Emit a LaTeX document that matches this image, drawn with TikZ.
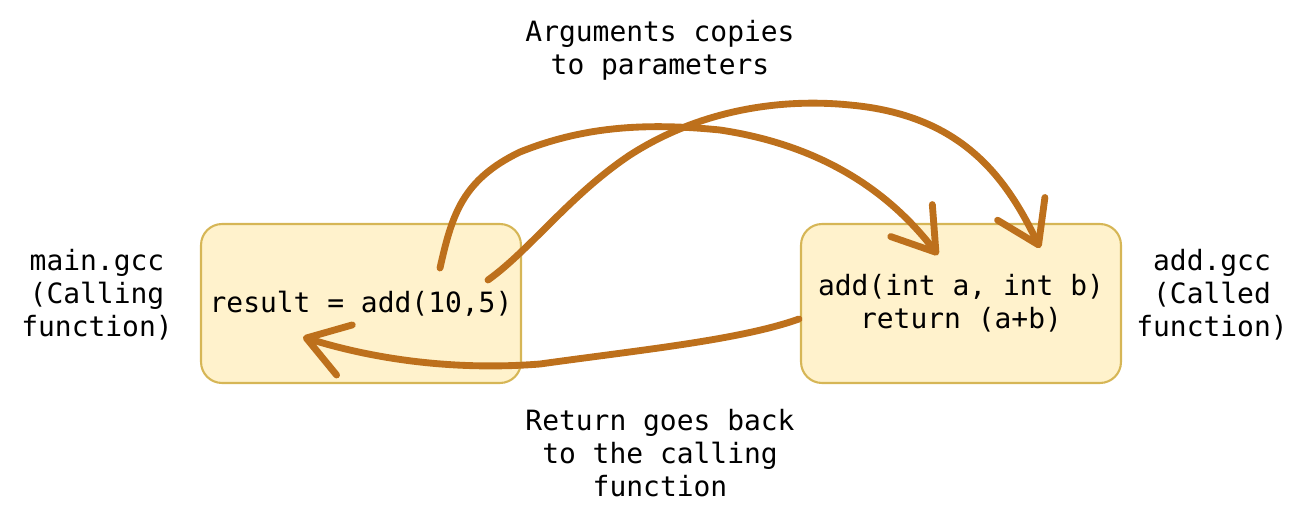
\documentclass[tikz,border=0pt]{standalone}
\usepackage{fontspec}
\setmonofont{DejaVu Sans Mono}
\usetikzlibrary{arrows.meta,calc}
\definecolor{boxfill}{HTML}{FFF2CC}
\definecolor{boxline}{HTML}{D6B656}
\definecolor{inkarrow}{HTML}{BD701C}
\tikzset{
  codebox/.style={draw=boxline, fill=boxfill, line width=1.2pt, rounded corners=0.42cm,
    minimum width=6.4cm, minimum height=3.18cm, inner sep=0pt, align=center},
  note/.style={align=center, inner sep=0pt},
  handarrow/.style={draw=inkarrow, line width=3.9pt, line cap=round, line join=round,
    -{Straight Barb[length=0.8cm, width=1.05cm, line cap=round, line join=round]}}
}
\begin{document}
\begin{tikzpicture}[x=0.02cm, y=-0.02cm, font=\ttfamily\fontsize{15.9}{18.8}\selectfont]
    \useasboundingbox (0,0) rectangle (1314,524);
    % Draw caller and callee boxes
    \node[codebox] (caller) at (361,303.5) {result = add(10,5)};
    \node[codebox] (callee) at (961,303.5) {add(int a, int b)\\return (a+b)};

    \node[note] (callerlbl) at (97,295) {main.gcc\\(Calling\\function)};
    \node[note] (calleelbl) at (1212,295) {add.gcc\\(Called\\function)};
    \node[note] (argslbl) at (660,50) {Arguments copies\\to parameters};
    \node[note] (retlbl) at (660,453) {Return goes back\\to the calling\\function};

    % Ends of the hand drawn arrows
    \coordinate (argA) at ($(caller.center)+(79,-35.5)$);
    \coordinate (argB) at ($(caller.center)+(127,-23.5)$);
    \coordinate (parA) at ($(callee.center)+(-23,-48.5)$);
    \coordinate (parB) at ($(callee.center)+(79,-55.5)$);
    \coordinate (retfrom) at ($(callee.west)+(-1,15.5)$);
    \coordinate (retto) at ($(caller.center)+(-58,33.5)$);

    \draw[handarrow] (argA) .. controls (452,215) and (462,180) .. (520,152)
        .. controls (580,128) and (640,122) .. (720,130)
        .. controls (820,145) and (888,190) .. (parA);
    \draw[handarrow] (argB) .. controls (530,250) and (570,195) .. (630,155)
        .. controls (700,110) and (780,98) .. (850,105)
        .. controls (960,115) and (1005,175) .. (parB);
    \draw[handarrow] (retfrom) .. controls (740,340) and (640,350) .. (540,364)
        .. controls (450,371) and (370,358) .. (retto);
\end{tikzpicture}
\end{document}
